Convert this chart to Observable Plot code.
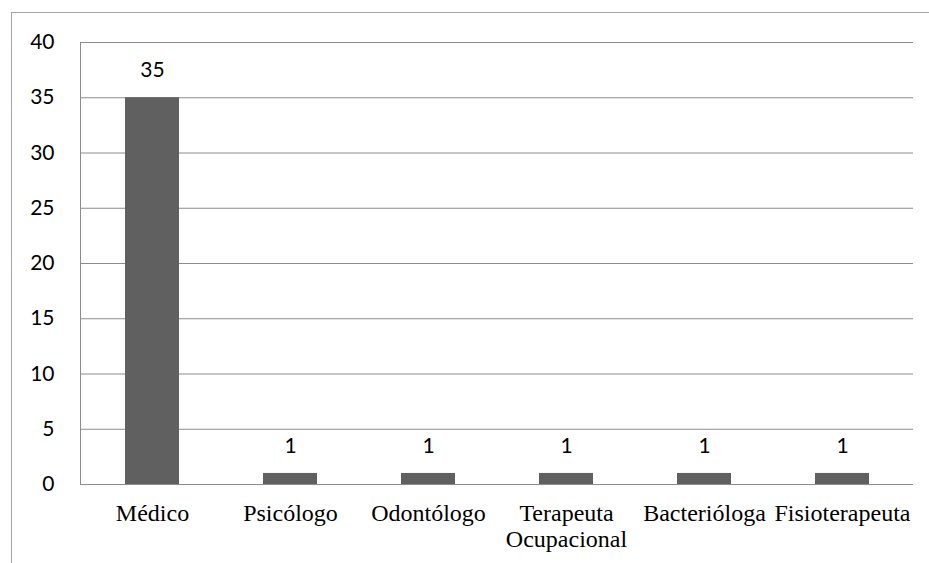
<!DOCTYPE html>
<html>
<head>
<meta charset="utf-8">
<script src="https://cdn.jsdelivr.net/npm/d3@7"></script>
<script src="https://cdn.jsdelivr.net/npm/@observablehq/plot@0.6"></script>
<style>
  html, body { margin: 0; padding: 0; background: #fff; }
  #wrap { position: relative; width: 929px; height: 563px; overflow: hidden; }
  #frame { position: absolute; left: 11px; top: 12px; width: 1000px; height: 1000px;
           border-left: 1px solid #a6a6a6; border-top: 1px solid #a6a6a6; box-sizing: border-box; }
  #chart { position: absolute; left: 0; top: 0; }
</style>
</head>
<body>
<div id="wrap"><div id="frame"></div><div id="chart"></div></div>
<script>
const categories = ["Médico", "Psicólogo", "Odontólogo", "Terapeuta Ocupacional", "Bacterióloga", "Fisioterapeuta"];
const values = [35, 1, 1, 1, 1, 1];
const yTicks = [0, 5, 10, 15, 20, 25, 30, 35, 40];

const data = categories.map((c, i) => ({category: c, value: values[i]}));

const chart = Plot.plot({
  width: 929,
  height: 563,
  marginLeft: 80,
  marginRight: 16,
  marginTop: 42,
  marginBottom: 79,
  style: {background: "transparent", overflow: "visible"},
  x: {domain: categories, paddingInner: 0.61, paddingOuter: 0.305, label: null},
  y: {domain: [0, 40], ticks: yTicks, label: null},
  marks: [
    Plot.ruleY(yTicks, {stroke: "#8c8c8c", strokeWidth: 1}),
    Plot.frame({anchor: "left", stroke: "#8c8c8c", strokeOpacity: 1}),
    Plot.barY(data, {x: "category", y: "value", fill: "#606060"}),
    Plot.text(data, {x: "category", y: "value", text: d => String(d.value), dy: -27,
      fontFamily: "Lato, 'Open Sans', sans-serif", fontSize: 21, fill: "#000"}),
    Plot.axisY({ticks: yTicks, tickSize: 0, tickPadding: 26, label: null,
      fontFamily: "Lato, 'Open Sans', sans-serif", fontSize: 21, color: "#000"}),
    Plot.axisX({tickSize: 0, tickPadding: 18, label: null, lineHeight: 1.08,
      tickFormat: d => d.replace(" ", "\n"),
      fontFamily: "'Liberation Serif', 'Times New Roman', serif", fontSize: 24, color: "#000"})
  ]
});
document.getElementById("chart").appendChild(chart);
</script>
</body>
</html>
